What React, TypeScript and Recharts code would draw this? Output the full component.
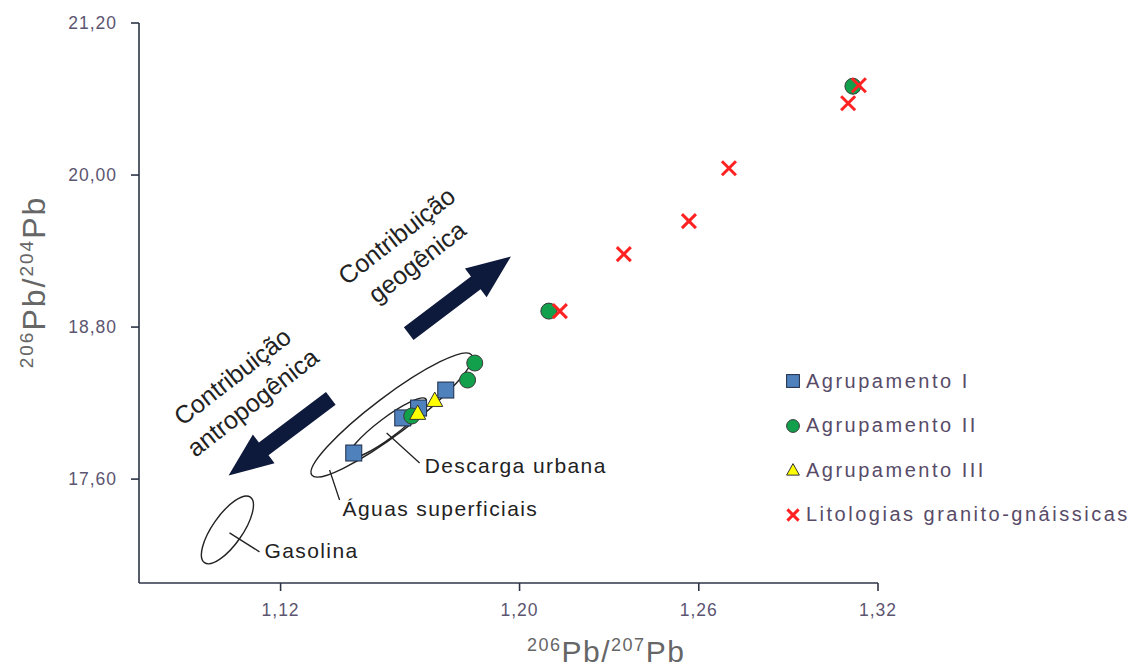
import React from 'react'
import { ScatterChart, Scatter, XAxis, YAxis, ReferenceDot, Label } from 'recharts'

// 206Pb/207Pb (x) vs 206Pb/204Pb (y)
const grupo1 = [
  { x: 1.1445, y: 17.806 },
  { x: 1.1609, y: 18.083 },
  { x: 1.1662, y: 18.161 },
  { x: 1.1753, y: 18.303 },
]
const grupo2 = [
  { x: 1.185, y: 18.516 },
  { x: 1.1826, y: 18.382 },
  { x: 1.1639, y: 18.098 },
  { x: 1.2098, y: 18.926 },
  { x: 1.3116, y: 20.701 },
]
const grupo3 = [
  { x: 1.1659, y: 18.122 },
  { x: 1.1716, y: 18.224 },
]
const litologias = [
  { x: 1.2135, y: 18.926 },
  { x: 1.2349, y: 19.376 },
  { x: 1.2567, y: 19.636 },
  { x: 1.2701, y: 20.054 },
  { x: 1.31, y: 20.567 },
  { x: 1.3136, y: 20.709 },
]

const xTicks = [1.12, 1.2, 1.26, 1.32]
const yTicks = [17.6, 18.8, 20.0, 21.2]

// field annotations (ellipses, arrows, labels), anchored in data units
const ellipses = [
  { x: 1.1572, y: 18.106, rx: 100, ry: 19, angle: -37 },
  { x: 1.1558, y: 18.004, rx: 48, ry: 10, angle: -37 },
  { x: 1.1022, y: 17.199, rx: 40, ry: 15, angle: -55 },
]
const arrows = [
  { x: 1.18, y: 19.053, angle: -37 },
  { x: 1.1197, y: 17.933, angle: 143 },
]
const rotatedNotes = [
  { x: 1.1625, y: 19.41, lines: ['Contribuição', 'geogênica'] },
  { x: 1.1075, y: 18.3, lines: ['Contribuição', 'antropogênica'] },
]
const leaders = [
  { x: 1.1029, y: 17.176, dx: 30, dy: 19, tx: 35, ty: 25, text: 'Gasolina' },
  { x: 1.1364, y: 17.672, dx: 10, dy: 30, tx: 13, ty: 46, text: 'Águas superficiais' },
  { x: 1.1555, y: 17.964, dx: 33, dy: 30, tx: 38, ty: 40, text: 'Descarga urbana' },
]

const series = [
  { name: 'Agrupamento I', data: grupo1, kind: 'square' },
  { name: 'Agrupamento II', data: grupo2, kind: 'circle' },
  { name: 'Agrupamento III', data: grupo3, kind: 'triangle' },
  { name: 'Litologias granito-gnáissicas', data: litologias, kind: 'cross' },
]

const tickColor = '#5c5570'
const axisColor = '#2d3446'
const titleColor = '#666'
const noteFont = 'Arial, "Liberation Sans", sans-serif'
const tickFont = { fill: tickColor, fontSize: 17.5, fontFamily: noteFont, letterSpacing: 1 }

const Marker = ({ kind, cx, cy, s = 1 }: { kind: string; cx: number; cy: number; s?: number }) => {
  if (kind === 'square') {
    const h = 8 * s
    return <rect x={cx - h} y={cy - h} width={h * 2} height={h * 2} fill="#4f81bd" stroke="#1c2a45" strokeWidth={1} />
  }
  if (kind === 'circle') {
    return <circle cx={cx} cy={cy} r={8 * s} fill="#12a04c" stroke="#3a3a3a" strokeWidth={1} />
  }
  if (kind === 'triangle') {
    const h = 8 * s
    return (
      <polygon
        points={`${cx},${cy - h} ${cx + h},${cy + h * 0.8} ${cx - h},${cy + h * 0.8}`}
        fill="#ffff00"
        stroke="#333"
        strokeWidth={1}
      />
    )
  }
  const h = 7 * s
  return (
    <g stroke="#ff2222" strokeWidth={3 * Math.min(1, s + 0.2)}>
      <line x1={cx - h} y1={cy - h} x2={cx + h} y2={cy + h} />
      <line x1={cx - h} y1={cy + h} x2={cx + h} y2={cy - h} />
    </g>
  )
}

const arrowShape = (angle: number) => (p: any) => {
  const { cx, cy } = p
  const L = 128
  const w = 8
  const W = 18
  const hl = 44
  const pts = [
    [-L / 2, -w],
    [L / 2 - hl, -w],
    [L / 2 - hl, -W],
    [L / 2, 0],
    [L / 2 - hl, W],
    [L / 2 - hl, w],
    [-L / 2, w],
  ]
    .map(([a, b]) => `${cx + a},${cy + b}`)
    .join(' ')
  return <polygon points={pts} fill="#0e1a3c" transform={`rotate(${angle} ${cx} ${cy})`} />
}

const ellipseShape = (rx: number, ry: number, angle: number) => (p: any) => (
  <ellipse
    cx={p.cx}
    cy={p.cy}
    rx={rx}
    ry={ry}
    fill="none"
    stroke="#222"
    strokeWidth={1.4}
    transform={`rotate(${angle} ${p.cx} ${p.cy})`}
  />
)

const noteShape = (lines: string[]) => (p: any) => (
  <text
    x={p.cx}
    y={p.cy}
    textAnchor="middle"
    fontFamily={noteFont}
    fontSize={25}
    fill="#222"
    transform={`rotate(-38 ${p.cx} ${p.cy})`}
  >
    <tspan x={p.cx} dy={-9}>{lines[0]}</tspan>
    <tspan x={p.cx} dy={33}>{lines[1]}</tspan>
  </text>
)

const leaderShape = (l: (typeof leaders)[number]) => (p: any) => (
  <g>
    <line x1={p.cx} y1={p.cy} x2={p.cx + l.dx} y2={p.cy + l.dy} stroke="#222" strokeWidth={1.3} />
    <text
      x={p.cx + l.tx}
      y={p.cy + l.ty}
      fontFamily={noteFont}
      fontSize={21}
      letterSpacing={1.4}
      fill="#222"
    >
      {l.text}
    </text>
  </g>
)

const LegendBox = () => (
  <div
    style={{
      position: 'absolute',
      left: 774,
      top: 351,
      fontFamily: noteFont,
      fontSize: 20,
      color: '#574b68',
      letterSpacing: 2.5,
      whiteSpace: 'nowrap',
    }}
  >
    {series.map((s) => (
      <div key={s.name} style={{ display: 'flex', alignItems: 'center', height: 44.5 }}>
        <svg width={22} height={22} style={{ marginRight: 2 }}>
          <Marker kind={s.kind} cx={11} cy={11} s={0.8} />
        </svg>
        <span>{s.name}</span>
      </div>
    ))}
  </div>
)

const fmt = (v: number) => v.toFixed(2).replace('.', ',')

export default function App() {
  return (
    <div style={{ position: 'relative', width: 1139, height: 659 }}>
      <ScatterChart width={1139} height={659} margin={{ top: 15, right: 269, bottom: 14, left: 0 }}>
        <XAxis
          type="number"
          dataKey="x"
          domain={[1.0726, 1.32]}
          ticks={xTicks}
          allowDataOverflow
          tickFormatter={fmt}
          tickSize={8}
          tickMargin={13}
          height={70}
          stroke={axisColor}
          strokeWidth={1.6}
          tick={tickFont}
        >
          <Label
            content={({ viewBox }: any) => (
              <text
                x={viewBox.x + 388}
                y={viewBox.y + 79}
                fontFamily={noteFont}
                fontSize={30}
                letterSpacing={1.5}
                fill={titleColor}
              >
                <tspan fontSize={18} dy={-11}>206</tspan>
                <tspan dy={11}>Pb/</tspan>
                <tspan fontSize={18} dy={-11}>207</tspan>
                <tspan dy={11}>Pb</tspan>
              </text>
            )}
          />
        </XAxis>
        <YAxis
          type="number"
          dataKey="y"
          domain={[16.78, 21.2]}
          ticks={yTicks}
          allowDataOverflow
          tickFormatter={fmt}
          tickSize={8}
          tickMargin={14}
          width={131}
          stroke={axisColor}
          strokeWidth={1.6}
          tick={tickFont}
        >
          <Label
            content={() => (
              <text
                x={37}
                y={274}
                textAnchor="middle"
                fontFamily={noteFont}
                fontSize={32}
                letterSpacing={2}
                fill={titleColor}
                transform="rotate(-90 37 274)"
              >
                <tspan fontSize={19} dy={-12}>206</tspan>
                <tspan dy={12}>Pb/</tspan>
                <tspan fontSize={19} dy={-12}>204</tspan>
                <tspan dy={12}>Pb</tspan>
              </text>
            )}
          />
        </YAxis>
        {ellipses.map((e, i) => (
          <ReferenceDot key={'e' + i} x={e.x} y={e.y} shape={ellipseShape(e.rx, e.ry, e.angle)} />
        ))}
        {leaders.map((l, i) => (
          <ReferenceDot key={'l' + i} x={l.x} y={l.y} shape={leaderShape(l)} />
        ))}
        {arrows.map((a, i) => (
          <ReferenceDot key={'a' + i} x={a.x} y={a.y} shape={arrowShape(a.angle)} />
        ))}
        {rotatedNotes.map((n, i) => (
          <ReferenceDot key={'n' + i} x={n.x} y={n.y} shape={noteShape(n.lines)} />
        ))}
        {series.map((s) => (
          <Scatter
            key={s.name}
            name={s.name}
            data={s.data}
            isAnimationActive={false}
            shape={(p: any) => <Marker kind={s.kind} cx={p.cx} cy={p.cy} />}
          />
        ))}
      </ScatterChart>
      <LegendBox />
    </div>
  )
}
